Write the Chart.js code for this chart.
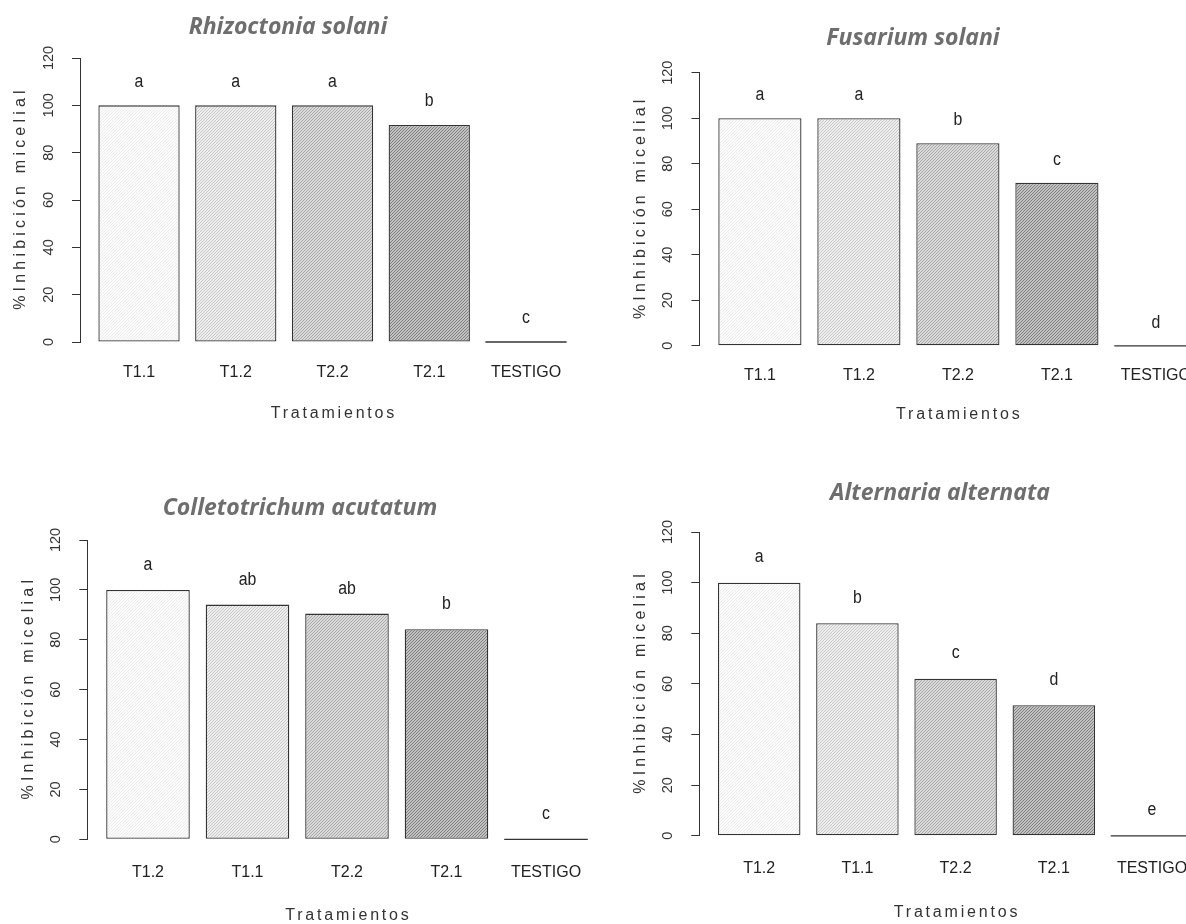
<!DOCTYPE html>
<html lang="es">
<head>
<meta charset="utf-8">
<title>Inhibición micelial</title>
<script src="https://cdn.jsdelivr.net/npm/chart.js@4.4.1/dist/chart.umd.min.js"></script>
<style>
    html, body { margin: 0; padding: 0; overflow: hidden; background: #fff; }
    body { width: 1186px; height: 924px; position: relative; }
    canvas { position: absolute; }
</style>
</head>
<body>

<canvas id="g1" width="593" height="460" style="left:0;top:0"></canvas>
<canvas id="g2" width="650" height="460" style="left:593px;top:0"></canvas>
<canvas id="g3" width="620" height="464" style="left:0;top:460px"></canvas>
<canvas id="g4" width="650" height="464" style="left:593px;top:460px"></canvas>

<script>
// ==============================
// DATOS
// ==============================

const categoriasArriba = ["T1.1", "T1.2", "T2.2", "T2.1", "TESTIGO"];
const categoriasAbajo = ["T1.2", "T1.1", "T2.2", "T2.1", "TESTIGO"];

const valoresRhizoctonia = [100, 100, 100, 91.7, 0];
const letrasRhizoctonia = ["a", "a", "a", "b", "c"];

const valoresFusarium = [100, 100, 89.0, 71.6, 0];
const letrasFusarium = ["a", "a", "b", "c", "d"];

const valoresColletotrichum = [100, 94.1, 90.5, 84.2, 0];
const letrasColletotrichum = ["a", "ab", "ab", "b", "c"];

const valoresAlternaria = [100, 84.0, 62.0, 51.6, 0];
const letrasAlternaria = ["a", "b", "c", "d", "e"];

const marcasY = [0, 20, 40, 60, 80, 100, 120];

// ==============================
// ESTILO
// ==============================

const fuenteNormal = "'Liberation Sans', Arial, sans-serif";

// tramas diagonales (fondo, línea) de claro a oscuro
const tramas = [
    ["#fbfbfb", "#ececec"],
    ["#eeeeee", "#c8c8c8"],
    ["#dadada", "#a8a8a8"],
    ["#c2c2c2", "#7e7e7e"],
    ["#ffffff", "#ffffff"]
];

// geometría de cada panel (coordenadas locales del lienzo)
const paneles = [
    { id: "g1", titulo: "Rhizoctonia solani", categorias: categoriasArriba,
      valores: valoresRhizoctonia, letras: letrasRhizoctonia,
      izq: 80, arriba: 58, abajo: 342, paso: 96.75,
      tituloX: 288, tituloY: 27, etiquetaDy: 31, ejeDy: 72 },
    { id: "g2", titulo: "Fusarium solani", categorias: categoriasArriba,
      valores: valoresFusarium, letras: letrasFusarium,
      izq: 106.5, arriba: 72.7, abajo: 345.8, paso: 99,
      tituloX: 320, tituloY: 38, etiquetaDy: 30, ejeDy: 69 },
    { id: "g3", titulo: "Colletotrichum acutatum", categorias: categoriasAbajo,
      valores: valoresColletotrichum, letras: letrasColletotrichum,
      izq: 87.3, arriba: 80, abajo: 379.3, paso: 99.5,
      tituloX: 300, tituloY: 48, etiquetaDy: 33, ejeDy: 76 },
    { id: "g4", titulo: "Alternaria alternata", categorias: categoriasAbajo,
      valores: valoresAlternaria, letras: letrasAlternaria,
      izq: 106.3, arriba: 72, abajo: 375.8, paso: 98.2,
      tituloX: 347, tituloY: 33, etiquetaDy: 33, ejeDy: 77 }
];

function crearTrama(ctx, fondo, linea) {
    const c = document.createElement("canvas");
    c.width = 3;
    c.height = 3;
    const g = c.getContext("2d");
    g.fillStyle = fondo;
    g.fillRect(0, 0, 3, 3);
    g.fillStyle = linea;
    g.fillRect(0, 2, 1, 1);
    g.fillRect(1, 1, 1, 1);
    g.fillRect(2, 0, 1, 1);
    return ctx.createPattern(c, "repeat");
}

// letras, línea del testigo, títulos
function pluginTextos(p) {
    return {
        id: "textos",
        afterDatasetsDraw(chart) {
            const ctx = chart.ctx;
            const ejeY = chart.scales.y;
            const meta = chart.getDatasetMeta(0);

            ctx.save();

            meta.data.forEach((barra, i) => {

                const valor = p.valores[i];

                // barra de altura cero: se ve como una línea
                if (valor === 0) {
                    ctx.strokeStyle = "#333";
                    ctx.lineWidth = 1.3;
                    ctx.beginPath();
                    ctx.moveTo(barra.x - barra.width / 2, barra.base);
                    ctx.lineTo(barra.x + barra.width / 2, barra.base);
                    ctx.stroke();
                }

                // letra más estrecha, como en el original
                ctx.save();
                ctx.translate(barra.x, ejeY.getPixelForValue(valor + 10));
                ctx.scale(0.88, 1);
                ctx.fillStyle = "#222";
                ctx.font = "18px " + fuenteNormal;
                ctx.textAlign = "center";
                ctx.textBaseline = "middle";
                ctx.fillText(p.letras[i], 0, 0);
                ctx.restore();

            });

            ctx.restore();
        },
        afterDraw(chart) {
            const ctx = chart.ctx;
            const area = chart.chartArea;

            ctx.save();

            // título
            ctx.fillStyle = "#6e6e6e";
            ctx.font = "italic bold 23px 'Open Sans', Lato, sans-serif";
            ctx.textAlign = "center";
            ctx.textBaseline = "middle";
            ctx.fillText(p.titulo, p.tituloX, p.tituloY);

            // título eje x
            ctx.fillStyle = "#333";
            ctx.font = "16px " + fuenteNormal;
            ctx.letterSpacing = "2.8px";
            ctx.fillText("Tratamientos", (area.left + area.right) / 2 + 1.4, p.abajo + p.ejeDy);

            // título eje y
            ctx.letterSpacing = "4.2px";
            ctx.translate(p.izq - 59, (area.top + area.bottom) / 2);
            ctx.rotate(-Math.PI / 2);
            ctx.fillText("%Inhibición micelial", 2, 0);

            ctx.restore();
        }
    };
}

function crearGrafico(p) {

    const lienzo = document.getElementById(p.id);
    const ctx = lienzo.getContext("2d");
    const ancho = lienzo.width;
    const alto = lienzo.height;
    const derecha = p.izq + 5.22 * p.paso;

    const rellenos = tramas.map(t => crearTrama(ctx, t[0], t[1]));

    new Chart(lienzo, {

        type: "bar",

        data: {
            datasets: [{
                data: p.valores.map((v, i) => ({ x: i, y: v })),
                backgroundColor: rellenos,
                borderColor: "#333",
                borderWidth: 1.3,
                borderSkipped: false,
                barPercentage: 0.84,
                categoryPercentage: 1
            }]
        },

        options: {
            responsive: false,
            animation: false,
            devicePixelRatio: 1,
            layout: {
                padding: { left: 0, top: p.arriba, right: ancho - derecha, bottom: 0 }
            },
            plugins: {
                legend: { display: false },
                tooltip: { enabled: false },
                title: { display: false }
            },
            scales: {
                x: {
                    type: "linear",
                    offset: false,
                    min: -0.61,
                    max: 4.61,
                    afterBuildTicks: s => { s.ticks = p.categorias.map((c, i) => ({ value: i })); },
                    afterFit: s => { s.height = alto - p.abajo; },
                    grid: { display: false, drawTicks: false },
                    border: { display: false },
                    ticks: {
                        autoSkip: false,
                        maxRotation: 0,
                        padding: p.etiquetaDy - 9.6,
                        color: "#222",
                        font: { family: fuenteNormal, size: 16 },
                        callback: v => p.categorias[v]
                    }
                },
                y: {
                    min: 0,
                    max: 120,
                    afterBuildTicks: s => { s.ticks = marcasY.map(v => ({ value: v })); },
                    afterFit: s => { s.width = p.izq; },
                    grid: { drawOnChartArea: false, drawTicks: true, tickLength: 8, color: "#333", lineWidth: 1 },
                    border: { display: true, color: "#333", width: 1 },
                    ticks: {
                        minRotation: 90,
                        maxRotation: 90,
                        crossAlign: "center",
                        padding: 11,
                        color: "#333",
                        font: { family: fuenteNormal, size: 14.5 }
                    }
                }
            }
        },

        plugins: [pluginTextos(p)]

    });
}

paneles.forEach(crearGrafico);
</script>
</body>
</html>
